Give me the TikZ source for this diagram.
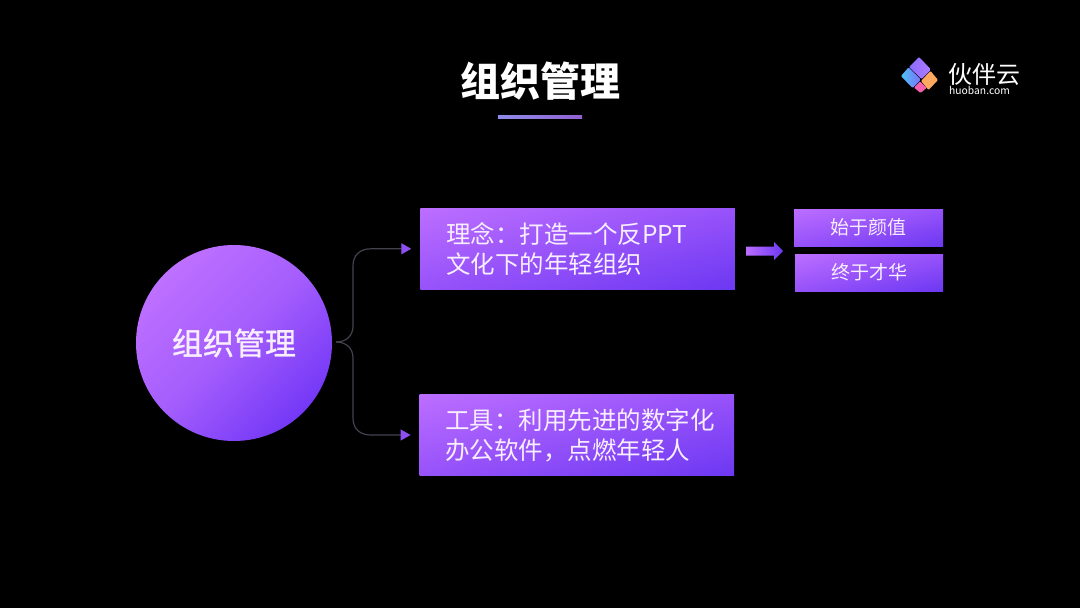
\documentclass[tikz,border=0pt]{standalone}
\usepackage{fontspec}
\setmainfont{Noto Sans CJK SC}
\newfontfamily\medf[FakeBold=1.2]{Noto Sans CJK SC}
\usetikzlibrary{arrows.meta,shadings}
\definecolor{gA}{HTML}{BC6EFF}
\definecolor{gM}{HTML}{9752FA}
\definecolor{gB}{HTML}{6C38F2}
\definecolor{cA}{HTML}{BE70FF}
\definecolor{cM}{HTML}{A45DFD}
\definecolor{cB}{HTML}{7438F6}
\definecolor{linegray}{HTML}{45414F}
\definecolor{tipP}{HTML}{8F50F2}
\definecolor{softwhite}{HTML}{F8EEFF}
\definecolor{ulA}{HTML}{8E8CE8}
\definecolor{ulB}{HTML}{9060D0}
\definecolor{logoA}{HTML}{8A6CFF}
\definecolor{logoB}{HTML}{AE7CFF}
\definecolor{logoC}{HTML}{4FC0F5}
\definecolor{logoD}{HTML}{7A70FF}
\definecolor{logoE}{HTML}{FFA860}
\definecolor{logoF}{HTML}{F45FB0}
\tikzset{
  gradbox/.style={inner sep=0pt,outer sep=0pt,upper left=gA,upper right=gM,lower left=gM,lower right=gB,text=softwhite},
  bigbox/.style={gradbox,minimum width=314.5pt,minimum height=81pt,text width=263pt,align=left,font=\fontsize{24.5}{30}\selectfont},
  smallbox/.style={gradbox,minimum width=149pt,minimum height=37pt,font=\fontsize{19}{22}\selectfont},
  bracket/.style={draw=linegray,line width=1.2pt,-{Triangle[length=10pt,width=11pt,fill=tipP,color=tipP]},shorten >=9pt},
  logotile/.style={rounded corners=0.8pt}
}
\begin{document}
\begin{tikzpicture}[x=1pt,y=-1pt]
\useasboundingbox (0,0) rectangle (1080,608);
\fill[black] (0,0) rectangle (1080,608);
% title
\node[text=white,font=\fontsize{40}{44}\bfseries\selectfont,inner sep=0pt] (title) at (540,81.5) {组织管理};
\fill[left color=ulA,right color=ulB] (498,115.7) rectangle (582,118.7);
% logo
\fill[logotile,left color=logoA,right color=logoB] (919,57) -- (931,69.5) -- (921.5,79) -- (909,67) -- cycle;
\fill[logotile,left color=logoC,right color=logoD] (908.5,67.5) -- (921,79.5) -- (912.5,88) -- (901,76) -- cycle;
\fill[logotile,color=logoE] (930.5,71) -- (938,80) -- (928.5,90) -- (921,81) -- cycle;
\fill[logotile,color=logoF] (920,81.5) -- (926.5,88) -- (920.5,93) -- (914,87.5) -- cycle;
\node[text=white,font=\fontsize{24}{26}\selectfont,inner sep=0pt] (logotext) at (984,74) {伙伴云};
\node[text=white,font=\fontsize{10.3}{12}\selectfont,inner sep=0pt] (logourl) at (979.5,90) {huoban.com};
% circle
\node[circle,inner sep=0pt,outer sep=0pt,minimum size=196pt,left color=cA,right color=cB,middle color=cM,shading angle=45,text=softwhite,font=\fontsize{31}{34}\medf] (main) at (234,343) {组织管理};
% boxes
\node[bigbox] (a) at (577.5,248.8) {理念：打造一个反PPT\\文化下的年轻组织};
\node[bigbox] (b) at (576.8,435) {工具：利用先进的数字化\\办公软件，点燃年轻人};
\node[smallbox] (c) at (868.5,227.5) {\raisebox{-1pt}{始于颜值}};
\node[smallbox,minimum width=148pt] (d) at (869,272.5) {\raisebox{-1pt}{终于才华}};
% fat arrow
\fill[left color=gA,right color=gB] (746,246.5) -- (774,246.5) -- (774,242) -- (783,251) -- (774,260) -- (774,255.5) -- (746,255.5) -- cycle;
% bracket
\coordinate (tip) at (336,342);
\draw[bracket] (tip) .. controls (346,342) and (353,336) .. (353,326) -- (353,266) .. controls (353,255) and (360,248.8) .. (371,248.8) -- (a.west);
\draw[bracket] (tip) .. controls (346,342) and (353,348) .. (353,358) -- (353,418) .. controls (353,429) and (360,435) .. (371,435) -- (b.west);
\end{tikzpicture}
\end{document}
